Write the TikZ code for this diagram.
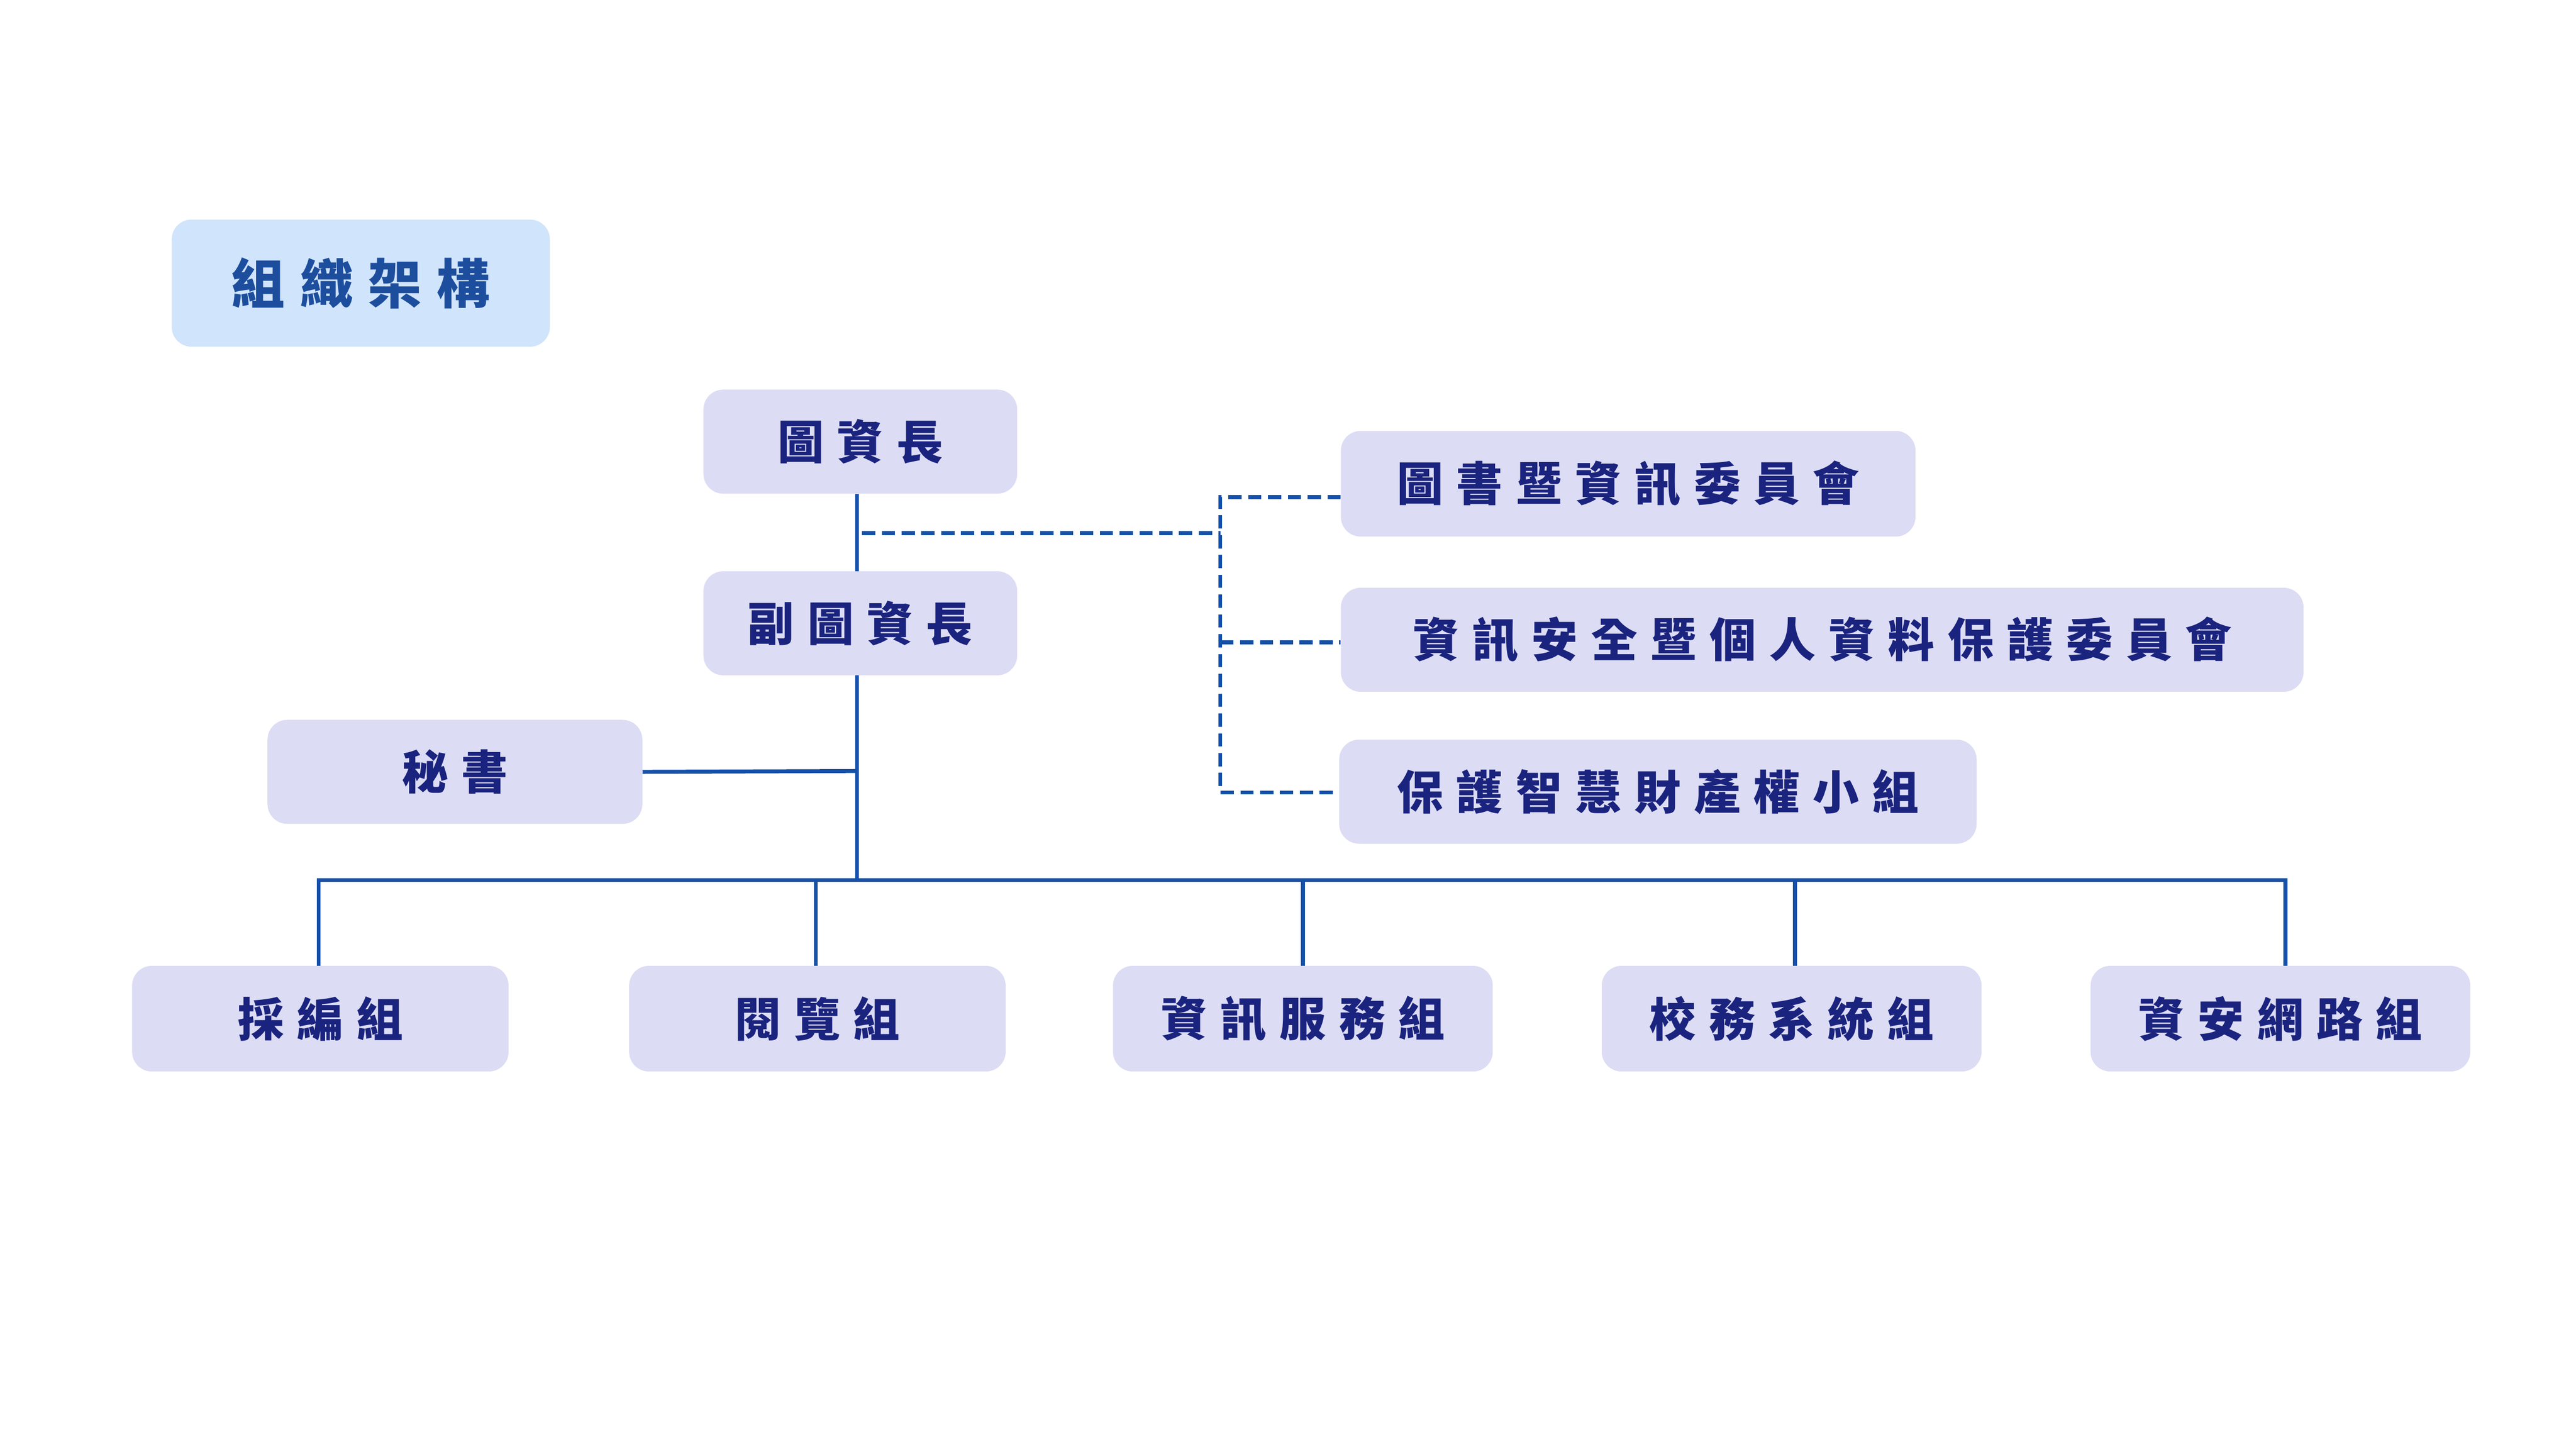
\documentclass[tikz,border=0pt]{standalone}
\usepackage{fontspec}
\newfontfamily\cjk[LetterSpace=28]{Noto Sans CJK TC}
\begin{document}
\definecolor{boxf}{HTML}{DCDCF4}
\definecolor{txt}{HTML}{1A237E}
\definecolor{ln}{HTML}{1550A8}
\definecolor{tboxf}{HTML}{D0E4FB}
\definecolor{ttxt}{HTML}{1D4E9E}
\begin{tikzpicture}[x=0.5mm,y=-0.5mm,
  bx/.style={draw=none,fill=boxf,rounded corners=6mm,inner sep=0,font=\cjk\bfseries\fontsize{40}{44}\selectfont,text=txt},
  ln/.style={draw=ln,line width=1.2mm},
  dl/.style={draw=ln,line width=1.2mm,dash pattern=on 4mm off 2mm}]
\useasboundingbox (0,0) rectangle (1560,877.5);
\newcommand\bnode[6]{\node[bx,minimum width=#3*0.5mm,minimum height=#4*0.5mm] (#5) at (#1,#2) {#6};}
\node[bx,fill=tboxf,text=ttxt,font=\cjk\bfseries\fontsize{46}{50}\selectfont,minimum width=114.5mm,minimum height=38.5mm] (title) at (218.5,171.5) {組織架構};
\bnode{521}{267.5}{190}{63}{a}{圖資長}
\bnode{521}{377.5}{190}{63}{b}{副圖資長}
\bnode{275.5}{467.5}{227}{63}{s}{秘書}
\bnode{986}{293}{348}{64}{c1}{圖書暨資訊委員會}
\bnode{1103.5}{387.5}{583}{63}{c2}{資訊安全暨個人資料保護委員會}
\bnode{1004}{479.5}{386}{63}{c3}{保護智慧財產權小組}
\bnode{194}{617}{228}{64}{d1}{採編組}
\bnode{495}{617}{228}{64}{d2}{閱覽組}
\bnode{789}{617}{230}{64}{d3}{資訊服務組}
\bnode{1085}{617}{230}{64}{d4}{校務系統組}
\bnode{1381}{617}{230}{64}{d5}{資安網路組}
\coordinate (j1) at (519,323);
\coordinate (j2) at (519,467);
\coordinate (j3) at (519,533);
\coordinate (v) at (739,323);
\draw[ln] (a.south -| j1) -- (b.north -| j1);
\draw[ln] (b.south -| j1) -- (j3);
\draw[ln] (s.east) -- (j2);
\draw[ln] (193,585) -- (193,533) -- (1384,533) -- (1384,585);
\draw[ln] (494,533) -- (494,585);
\draw[ln] (789,533) -- (789,585);
\draw[ln] (1087,533) -- (1087,585);
\draw[dl] (522,323) -- (v);
\draw[dl] (c1.west |- 0,301) -- (739,301) -- (739,480) -- (c3.west |- 0,480);
\draw[dl] (739,389) -- (c2.west |- 0,389);
\end{tikzpicture}
\end{document}
